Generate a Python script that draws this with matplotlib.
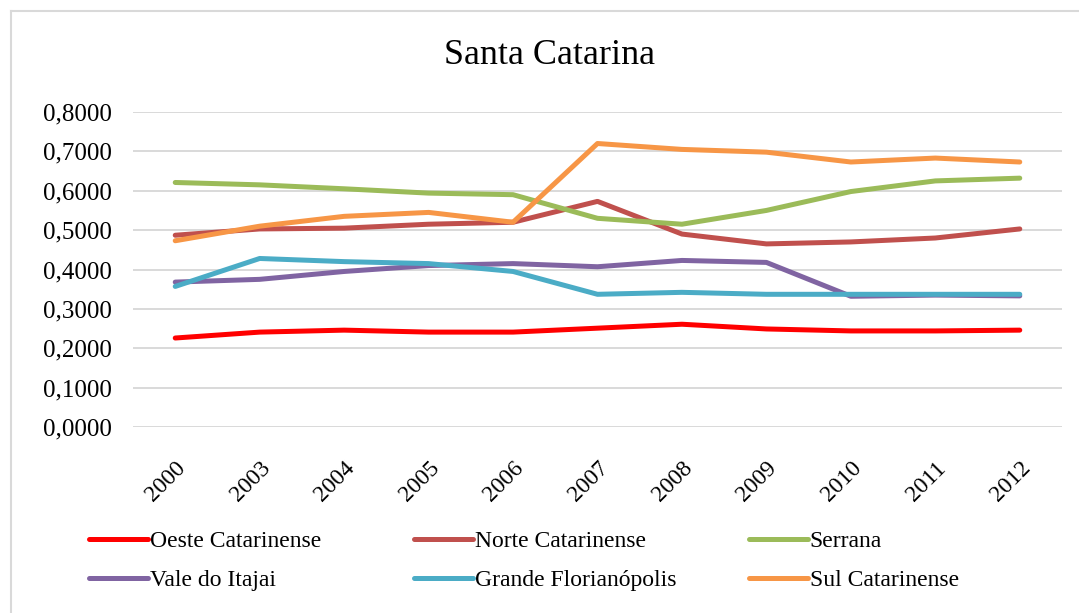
import matplotlib
matplotlib.use("Agg")
import matplotlib.pyplot as plt
from matplotlib.lines import Line2D

anos = ["2000", "2003", "2004", "2005", "2006", "2007", "2008", "2009", "2010", "2011", "2012"]

oeste = [0.226, 0.241, 0.246, 0.241, 0.241, 0.251, 0.261, 0.249, 0.244, 0.244, 0.246]
norte = [0.487, 0.503, 0.505, 0.515, 0.520, 0.573, 0.490, 0.465, 0.470, 0.480, 0.503]
serrana = [0.621, 0.615, 0.605, 0.594, 0.590, 0.530, 0.515, 0.550, 0.598, 0.625, 0.632]
vale = [0.368, 0.375, 0.395, 0.410, 0.415, 0.407, 0.423, 0.418, 0.332, 0.335, 0.333]
grande = [0.357, 0.428, 0.420, 0.415, 0.395, 0.337, 0.342, 0.337, 0.337, 0.337, 0.337]
sul = [0.473, 0.510, 0.535, 0.545, 0.520, 0.720, 0.705, 0.698, 0.673, 0.683, 0.673]

nomes = ["Oeste Catarinense", "Norte Catarinense", "Serrana",
         "Vale do Itajai", "Grande Florianópolis", "Sul Catarinense"]
cores = ["#FF0000", "#C0504D", "#9BBB59", "#8064A2", "#4BACC6", "#F79646"]
series = [oeste, norte, serrana, vale, grande, sul]

plt.rcParams["font.family"] = ["Liberation Serif", "DejaVu Serif"]

fig = plt.figure(figsize=(10.79, 6.13), dpi=100)
ax = fig.add_axes([133 / 1079, 1 - 427 / 613, 929 / 1079, 315 / 613])

x = list(range(len(anos)))
for s, c, n in zip(series, cores, nomes):
    ax.plot(x, s, color=c, linewidth=3.6, solid_capstyle="round", label=n)

ax.set_xlim(-0.5, len(anos) - 0.5)
ax.set_ylim(0, 0.8)
yt = [i / 10 for i in range(9)]
ax.set_yticks(yt)
ax.set_yticklabels([f"{v:.4f}".replace(".", ",") for v in yt], fontsize=18)
ax.set_xticks(x)
ax.set_xticklabels(anos, fontsize=17, rotation=45, ha="right", rotation_mode="anchor")
ax.tick_params(axis="y", length=0, pad=15)
ax.tick_params(axis="x", length=0, pad=22)
ax.grid(axis="y", color="#D9D9D9", linewidth=1.4)
ax.set_axisbelow(True)
for sp in ax.spines.values():
    sp.set_visible(False)

fig.text(550 / 1079, 1 - 55 / 613, "Santa Catarina", ha="center", va="center", fontsize=26)

# legenda em tres colunas
col_x = [80 / 1079, 405 / 1079, 740 / 1079]
for j in range(3):
    idx = [j, j + 3]
    hs = [Line2D([], [], color=cores[i], linewidth=3.6, solid_capstyle="round") for i in idx]
    fig.legend(hs, [nomes[i] for i in idx], loc="upper left",
               bbox_to_anchor=(col_x[j], 1 - 521 / 613), frameon=False,
               fontsize=17, handlelength=2.5, handletextpad=0.05,
               labelspacing=0.75, borderaxespad=0)

# borda do grafico
fig.add_artist(Line2D([11 / 1079, 11 / 1079], [0, 1 - 11 / 613], color="#D9D9D9", linewidth=1.5))
fig.add_artist(Line2D([11 / 1079, 1], [1 - 11 / 613, 1 - 11 / 613], color="#D9D9D9", linewidth=1.5))

fig.savefig("out.png", dpi=100)
